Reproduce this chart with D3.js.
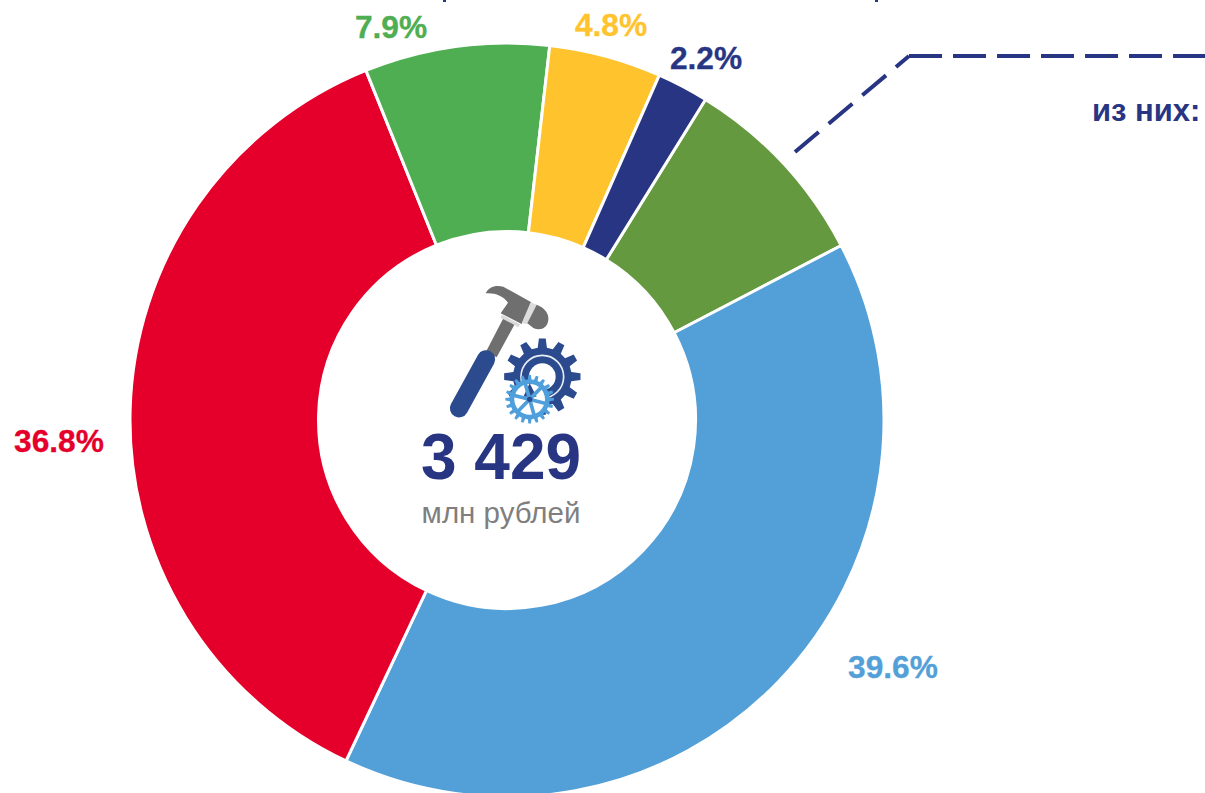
<!DOCTYPE html>
<html><head><meta charset="utf-8">
<script src="https://cdnjs.cloudflare.com/ajax/libs/d3/7.8.5/d3.min.js"></script>
<style>html,body{margin:0;padding:0;background:#fff;overflow:hidden}svg{display:block}text{font-family:"Liberation Sans",Arial,sans-serif}</style>
</head><body><svg id="c" width="1205" height="793"></svg>
<script>
const categories=["a","b","c","d","e","f"];
const values=[8.5,39.6,36.8,7.9,4.8,2.2];
const colors=["#65993f","#539fd8","#e4002b","#4fae52","#ffc32e","#283583"];
const labels=[null,"39.6%","36.8%","7.9%","4.8%","2.2%"];
const labelPos=[null,[893,678],[59,452],[391,38],[611,36],[706,69]];
const cx=507,cy=420,R=377,r=188.5,start=31.77*Math.PI/180;
const svg=d3.select("#c");
const pie=d3.pie().sort(null).value(d=>d).startAngle(start).endAngle(start+2*Math.PI);
const arc=d3.arc().innerRadius(r).outerRadius(R);
const g=svg.append("g").attr("transform",`translate(${cx},${cy})`);
g.selectAll("path").data(pie(values)).join("path").attr("d",arc)
 .attr("fill",(d,i)=>colors[i]).attr("stroke","#fff").attr("stroke-width",3).attr("stroke-linejoin","round");
svg.selectAll("text.lab").data(labels).join("text").attr("class","lab")
 .filter(d=>d).each(function(d){const i=labels.indexOf(d);
  d3.select(this).attr("x",labelPos[i][0]).attr("y",labelPos[i][1]).attr("text-anchor","middle")
  .attr("font-size",31.7).attr("font-weight","bold").attr("fill",colors[i]).attr("stroke",colors[i]).attr("stroke-width",0.3).text(d)});
// clipped title fragments at the top edge
svg.append("g").attr("fill","#283583").selectAll("rect").data([443,875]).join("rect")
 .attr("x",d=>d).attr("y",0).attr("width",3).attr("height",2);
// leader
svg.append("path").attr("d","M795,152L909,56").attr("fill","none").attr("stroke","#283583")
 .attr("stroke-width",4).attr("stroke-dasharray","31,13");
svg.append("path").attr("d","M909,56L1205,56").attr("fill","none").attr("stroke","#283583")
 .attr("stroke-width",4).attr("stroke-dasharray","33,11");
svg.append("text").attr("x",1092).attr("y",121).attr("font-size",31).attr("font-weight","bold").attr("fill","#283583").text("из них:");
svg.append("text").attr("x",501).attr("y",479).attr("text-anchor","middle").attr("font-size",64).attr("font-weight","bold").attr("fill","#283583").text("3 429");
svg.append("text").attr("x",501).attr("y",523).attr("text-anchor","middle").attr("font-size",29.5).attr("fill","#7f7f7f").text("млн рублей");
// icon (zoom coords)
const ic=svg.append("g").attr("transform","translate(420,270) scale(0.3333)");
ic.append("path").attr("d","M198,245L250,145L284,163L230,262Z").attr("fill","#6f6f6f");
ic.append("path").attr("d","M197,70C205,52 225,44 250,50L334,97L305,162L242,130L264,98C250,78 225,68 197,70Z").attr("fill","#6f6f6f");
ic.append("path").attr("d","M246,134L300,163L296,172L242,143Z").attr("fill","#d9d9d9");
ic.append("path").attr("d","M332,97L350,104L322,162L305,160Z").attr("fill","#dcdcdc");
ic.append("path").attr("d","M350,104C372,112 388,130 385,150C382,178 358,182 340,174L322,160Z").attr("fill","#6f6f6f");
ic.append("line").attr("x1",117).attr("y1",415).attr("x2",198).attr("y2",268).attr("stroke","#2c4a8e").attr("stroke-width",55).attr("stroke-linecap","round");
function gear(cxg,cyg,ro,ri,n){let p=[];for(let k=0;k<n;k++){const a=k/n*2*Math.PI,w=2*Math.PI/n;
 [[-.3,ri],[-.17,ro],[.17,ro],[.3,ri]].forEach(([f,rr])=>p.push([cxg+rr*Math.sin(a+f*w),cyg-rr*Math.cos(a+f*w)]));}
 return "M"+p.map(q=>q.map(v=>v.toFixed(1)).join(",")).join("L")+"Z";}
ic.append("path").attr("d",gear(367,320,115,88,12)).attr("fill","#2c4a8e");
ic.append("circle").attr("cx",367).attr("cy",320).attr("r",64).attr("fill","none").attr("stroke","#e8eef6").attr("stroke-width",5);
ic.append("circle").attr("cx",367).attr("cy",320).attr("r",40).attr("fill","#fff");
ic.append("path").attr("d",gear(329,388,73,60,20)).attr("fill","#4f9fdc");
ic.append("circle").attr("cx",329).attr("cy",388).attr("r",46).attr("fill","#fff");
ic.append("path").attr("d","M329,340L350,380L310,380Z").attr("fill","#2c4a8e");
ic.append("path").attr("fill","none").attr("stroke","#4f9fdc").attr("stroke-width",11)
 .attr("d",d3.range(3).map(k=>{const a=k*Math.PI/3+.25;return `M${329-50*Math.cos(a)},${388-50*Math.sin(a)}L${329+50*Math.cos(a)},${388+50*Math.sin(a)}`}).join(""));
ic.append("circle").attr("cx",329).attr("cy",388).attr("r",8).attr("fill","#2c4a8e");
</script></body></html>
